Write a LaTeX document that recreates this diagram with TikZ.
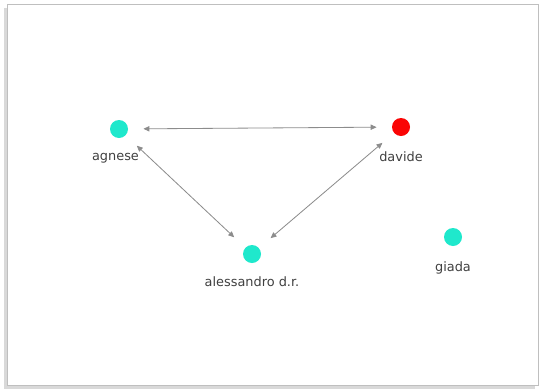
\documentclass[tikz,border=0pt]{standalone}
\usepackage{fontspec}
\setmainfont{DejaVu Sans}
\usetikzlibrary{arrows.meta,positioning}
\definecolor{turchese}{rgb}{0.12,0.91,0.80}
\definecolor{rosso}{rgb}{0.98,0.02,0.02}
\definecolor{grigiofreccia}{rgb}{0.55,0.55,0.55}
\tikzset{
  persona/.style={
    circle,
    fill=turchese,
    minimum size=.54cm,
    inner sep=0pt
  },
  nome/.style={
    font=\fontsize{11}{13}\selectfont,
    text=black!75,
    inner sep=1pt
  },
  legame/.style={
    {Triangle[length=5pt,width=4.5pt]}-{Triangle[length=5pt,width=4.5pt]},
    line width=.7pt,
    grigiofreccia,
    shorten <=13pt,
    shorten >=13pt
  }
}

\begin{document}
\begin{tikzpicture}[x=.03cm,y=-.03cm,node distance=4.2mm]
\useasboundingbox (0,0) rectangle (540,389);
% cornice
\fill[black!15] (4,8) rectangle (535,389);
\filldraw[fill=white,draw=black!25] (7,4) rectangle (538,385);
% persone
\node[persona] (agnese) at (119,129) {};
\node[persona,fill=rosso] (davide) at (401,127) {};
\node[persona] (alessandro) at (252,254) {};
\node[persona] (giada) at (453,237) {};
\node[nome,below=of agnese,xshift=-3pt] (nagnese) {agnese};
\node[nome,below=of davide] (ndavide) {davide};
\node[nome,below=3.5mm of alessandro] (nalessandro) {alessandro d.r.};
\node[nome,below=of giada] (ngiada) {giada};
% legami
\draw[legame] (agnese) -- (davide);
\draw[legame] (agnese) -- (alessandro);
\draw[legame] (davide) -- (alessandro);
\end{tikzpicture}
\end{document}
